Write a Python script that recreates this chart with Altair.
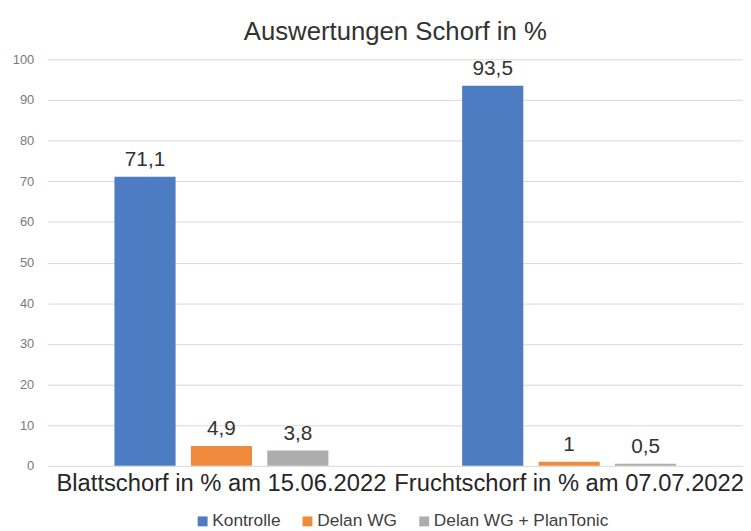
import altair as alt
import pandas as pd

categories = ["Blattschorf in % am 15.06.2022", "Fruchtschorf in % am 07.07.2022"]
series = ["Kontrolle", "Delan WG", "Delan WG + PlanTonic"]
kontrolle = [71.1, 93.5]
delan_wg = [4.9, 1.0]
delan_wg_plantonic = [3.8, 0.5]
colors = ["#4E7CC2", "#F08A3C", "#ADADAD"]
y_ticks = [0, 10, 20, 30, 40, 50, 60, 70, 80, 90, 100]

rows = []
for s, vals in zip(series, [kontrolle, delan_wg, delan_wg_plantonic]):
    for c, v in zip(categories, vals):
        rows.append({"Kategorie": c, "Serie": s, "Wert": v})
df = pd.DataFrame(rows)

FONT = "Liberation Sans"

x = alt.X(
    "Kategorie:N", sort=categories,
    scale=alt.Scale(paddingInner=0, paddingOuter=0),
    axis=alt.Axis(title=None, labelAngle=0, labelFontSize=24, labelColor="#262626",
                  labelPadding=6, ticks=False, tickSize=0, domain=False, grid=False,
                  labelFont=FONT, labelLimit=0),
)
xo = alt.XOffset("Serie:N", sort=series,
                 scale=alt.Scale(paddingInner=0.2, paddingOuter=0.875))
y = alt.Y(
    "Wert:Q",
    scale=alt.Scale(domain=[0, 100], nice=False),
    axis=alt.Axis(title=None, values=y_ticks, labelFontSize=13, labelColor="#7a7a7a",
                  labelFont=FONT, labelPadding=14, ticks=False, tickSize=0, domain=False,
                  grid=True, gridColor="#d9d9d9", gridWidth=1),
)

bars = alt.Chart(df).mark_bar().encode(
    x=x, xOffset=xo, y=y,
    color=alt.Color(
        "Serie:N", sort=series,
        scale=alt.Scale(domain=series, range=colors),
        legend=alt.Legend(title=None, orient="none", legendX=148, legendY=458,
                          direction="horizontal", symbolType="square", symbolSize=100,
                          symbolStrokeWidth=0, labelFontSize=17.5, labelFont=FONT,
                          labelColor="#404040", labelOffset=1, columnPadding=18,
                          padding=0, labelLimit=300),
    ),
)

labels = alt.Chart(df).transform_calculate(
    label="replace(toString(datum.Wert), '.', ',')"
).mark_text(fontSize=21, dy=-11, baseline="alphabetic", font=FONT, color="#333333").encode(
    x=x, xOffset=xo, y=y, text="label:N"
)

chart = alt.layer(bars, labels).properties(
    width=703, height=411,
    autosize=alt.AutoSizeParams(type="none"),
    padding={"left": 40, "top": 49, "right": 0, "bottom": 63},
    title=alt.Title("Auswertungen Schorf in %", fontSize=26, font=FONT, color="#333333",
                    fontWeight="normal", frame="group", anchor="middle", offset=8),
).configure(background="white").configure_view(stroke=None)

chart.save("out.html", embed_options={"renderer": "svg", "actions": False})
